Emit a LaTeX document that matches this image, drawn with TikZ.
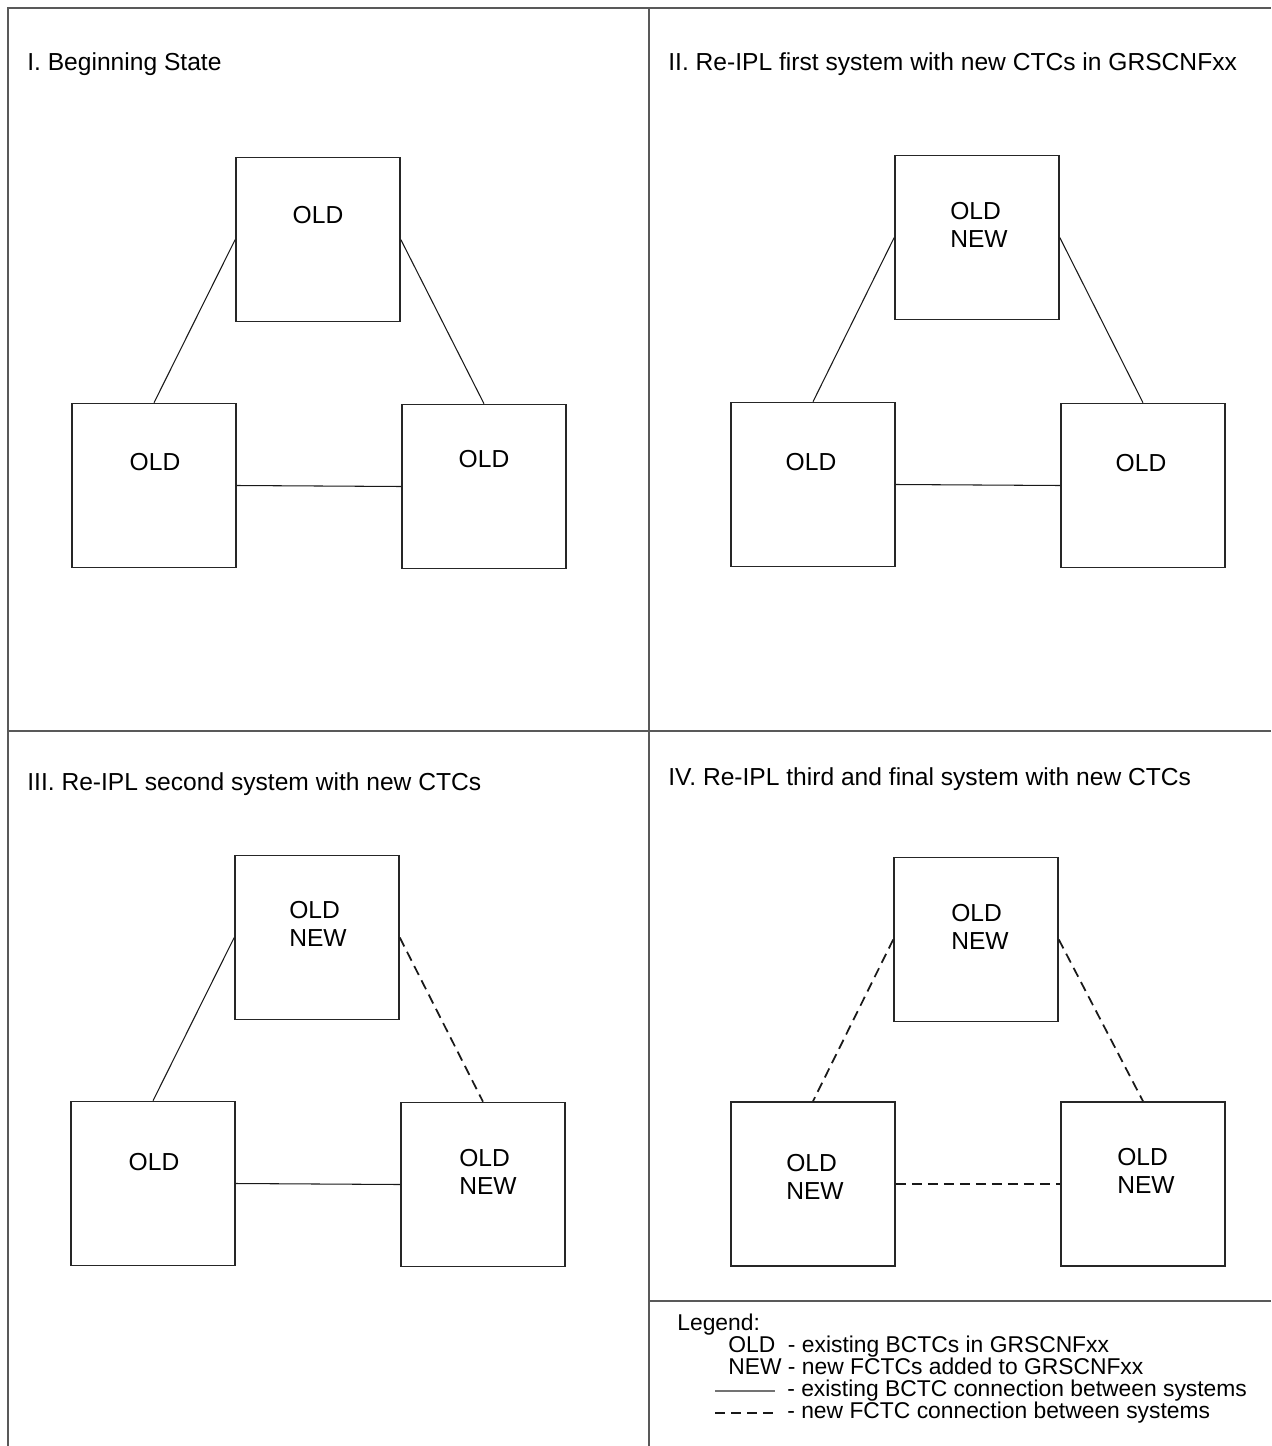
\documentclass[tikz,border=0pt]{standalone}
\usepackage{fontspec}
\setmainfont{Liberation Sans}

\begin{document}
\begin{tikzpicture}[x=0.02cm, y=-0.02cm,
  sysbox/.style={rectangle, draw=black!85, line width=0.9pt, minimum size=3.28cm, inner sep=0pt},
  systext/.style={anchor=north, inner sep=0pt, align=left, font=\fontsize{14}{15.9}\selectfont},
  paneltitle/.style={anchor=base west, inner sep=0pt, font=\fontsize{14}{17}\selectfont},
  legtext/.style={anchor=base west, inner sep=0pt, font=\fontsize{13}{15}\selectfont},
  bctc/.style={draw=black!90, line width=0.6pt},
  fctc/.style={draw=black!90, line width=1pt, dash pattern=on 0.2cm off 0.12cm},
  panelrule/.style={draw=black!65, line width=0.9pt}]
  \useasboundingbox (0,0) rectangle (1271,1446);

  % Frame
  \draw[panelrule] (8,1446) -- (8,8) -- (1271,8);
  \draw[panelrule] (649,8) -- (649,1446);
  \draw[panelrule] (8,731) -- (1271,731);
  \draw[panelrule] (649,1301) -- (1271,1301);

  % Titles
  \node (t-1) [paneltitle] at (27, 71) {I. Beginning State};
  \node (t-2) [paneltitle] at (668, 71) {II. Re-IPL first system with new CTCs in GRSCNFxx};
  \node (t-3) [paneltitle] at (27, 790) {III. Re-IPL second system with new CTCs};
  \node (t-4) [paneltitle] at (668, 785) {IV. Re-IPL third and final system with new CTCs};

  % Panel I
  \node (s1-top) [sysbox] at (318, 239.5) {};
  \node (s1-left) [sysbox] at (154, 485.5) {};
  \node (s1-right) [sysbox] at (484, 486.5) {};
  \node (s1-top-txt) [systext] at (318, 206) {OLD};
  \node (s1-left-txt) [systext] at (155, 453) {OLD};
  \node (s1-right-txt) [systext] at (484, 450) {OLD};
  \draw[bctc] (s1-top.west) -- (s1-left.north);
  \draw[bctc] (s1-top.east) -- (s1-right.north);
  \draw[bctc] (s1-left.east) -- (s1-right.west);

  % Panel II
  \node (s2-top) [sysbox] at (977, 237.5) {};
  \node (s2-left) [sysbox] at (813, 484.5) {};
  \node (s2-right) [sysbox] at (1143, 485.5) {};
  \node (s2-top-txt) [systext] at (979, 202) {OLD\\NEW};
  \node (s2-left-txt) [systext] at (811, 453) {OLD};
  \node (s2-right-txt) [systext] at (1141, 454) {OLD};
  \draw[bctc] (s2-top.west) -- (s2-left.north);
  \draw[bctc] (s2-top.east) -- (s2-right.north);
  \draw[bctc] (s2-left.east) -- (s2-right.west);

  % Panel III
  \node (s3-top) [sysbox] at (317, 937.5) {};
  \node (s3-left) [sysbox] at (153, 1183.5) {};
  \node (s3-right) [sysbox] at (483, 1184.5) {};
  \node (s3-top-txt) [systext] at (318, 901) {OLD\\NEW};
  \node (s3-left-txt) [systext] at (154, 1153) {OLD};
  \node (s3-right-txt) [systext] at (488, 1149) {OLD\\NEW};
  \draw[bctc] (s3-top.west) -- (s3-left.north);
  \draw[fctc] (s3-top.east) -- (s3-right.north);
  \draw[bctc] (s3-left.east) -- (s3-right.west);

  % Panel IV
  \node (s4-top) [sysbox] at (976, 939.5) {};
  \node (s4-left) [sysbox] at (813, 1184) {};
  \node (s4-right) [sysbox] at (1143, 1184) {};
  \node (s4-top-txt) [systext] at (980, 904) {OLD\\NEW};
  \node (s4-left-txt) [systext] at (815, 1154) {OLD\\NEW};
  \node (s4-right-txt) [systext] at (1146, 1148) {OLD\\NEW};
  \draw[fctc] (s4-top.west) -- (s4-left.north);
  \draw[fctc] (s4-top.east) -- (s4-right.north);
  \draw[fctc] (s4-left.east) -- (s4-right.west);

  % Legend
  \node (leg-title) [legtext] at (677, 1330) {Legend:};
  \node (leg-old) [legtext] at (728, 1352) {OLD\ \ - existing BCTCs in GRSCNFxx};
  \node (leg-new) [legtext] at (728, 1374) {NEW - new FCTCs added to GRSCNFxx};
  \node (leg-bctc) [legtext] at (787, 1396) {- existing BCTC connection between systems};
  \node (leg-fctc) [legtext] at (787, 1418) {- new FCTC connection between systems};
  \coordinate (leg-bctc-a) at (715, 1391);
  \coordinate (leg-bctc-b) at (775, 1391);
  \coordinate (leg-fctc-a) at (715, 1413);
  \coordinate (leg-fctc-b) at (775, 1413);
  \draw[bctc, draw=black!55] (leg-bctc-a) -- (leg-bctc-b);
  \draw[fctc] (leg-fctc-a) -- (leg-fctc-b);
\end{tikzpicture}
\end{document}
